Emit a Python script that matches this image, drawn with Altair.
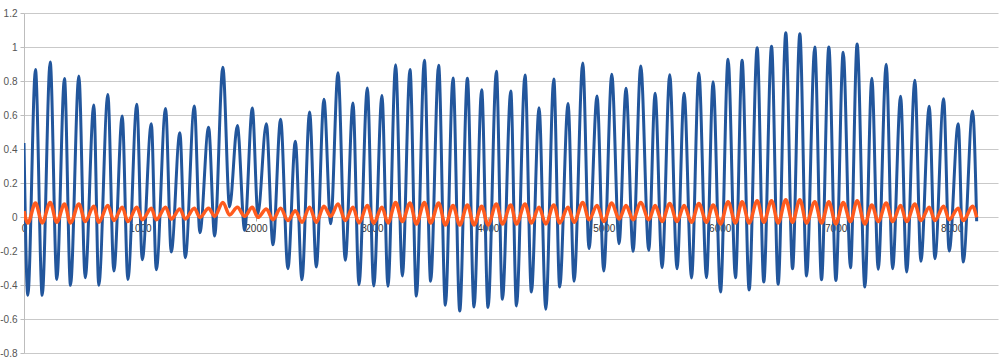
import altair as alt
import pandas as pd

# x positions of each turning point (peaks / troughs) of the signals
x_pos = [0, 33, 99, 157, 226, 283, 349, 401, 473, 528, 602, 645, 723, 775, 847, 896,
         973, 1020, 1098, 1141, 1221, 1270, 1344, 1391, 1469, 1517, 1592, 1644, 1715, 1773,
         1840, 1903, 1969, 2017, 2090, 2147, 2213, 2276, 2340, 2397, 2463, 2521, 2587, 2645,
         2708, 2771, 2837, 2889, 2961, 3016, 3087, 3139, 3205, 3263, 3329, 3384, 3453, 3507,
         3576, 3634, 3700, 3758, 3824, 3881, 3947, 4002, 4074, 4126, 4198, 4247, 4321, 4376,
         4442, 4500, 4569, 4620, 4692, 4744, 4819, 4873, 4942, 5000, 5069, 5132, 5192, 5253,
         5319, 5388, 5443, 5503, 5569, 5632, 5693, 5757, 5820, 5886, 5943, 6007, 6072, 6136,
         6193, 6254, 6323, 6380, 6447, 6504, 6570, 6628, 6691, 6749, 6820, 6878, 6941, 7002,
         7065, 7128, 7185, 7252, 7312, 7367, 7436, 7491, 7560, 7612, 7683, 7735, 7807, 7856,
         7931, 7979, 8057, 8100, 8181, 8216]

blue = [0.435, -0.461, 0.867, -0.461, 0.912, -0.367, 0.814, -0.402, 0.830, -0.357, 0.659, -0.402,
        0.720, -0.318, 0.594, -0.367, 0.663, -0.251, 0.549, -0.310, 0.638, -0.206, 0.496, -0.239,
        0.653, -0.092, 0.528, -0.112, 0.881, 0.059, 0.538, -0.078, 0.641, 0.020, 0.549, -0.163,
        0.575, -0.304, 0.445, -0.369, 0.618, -0.294, 0.692, -0.039, 0.849, -0.255, 0.671, -0.398,
        0.759, -0.406, 0.714, -0.408, 0.896, -0.347, 0.867, -0.465, 0.922, -0.378, 0.892, -0.519,
        0.818, -0.553, 0.816, -0.529, 0.749, -0.533, 0.857, -0.484, 0.741, -0.523, 0.835, -0.441,
        0.643, -0.543, 0.812, -0.412, 0.667, -0.378, 0.906, -0.186, 0.712, -0.318, 0.839, -0.157,
        0.757, -0.202, 0.888, -0.196, 0.728, -0.298, 0.837, -0.304, 0.728, -0.359, 0.847, -0.357,
        0.796, -0.441, 0.928, -0.357, 0.922, -0.429, 0.996, -0.382, 1.004, -0.396, 1.084, -0.304,
        1.078, -0.347, 1.000, -0.369, 1.000, -0.373, 0.969, -0.298, 1.018, -0.412, 0.816, -0.308,
        0.898, -0.304, 0.710, -0.324, 0.804, -0.261, 0.651, -0.245, 0.696, -0.200, 0.549, -0.265,
        0.624, -0.025]

orange = [0.035, -0.035, 0.082, -0.035, 0.086, -0.031, 0.077, -0.035, 0.077, -0.027, 0.063, -0.031,
          0.067, -0.021, 0.057, -0.027, 0.057, -0.016, 0.051, -0.016, 0.057, -0.012, 0.047, -0.012,
          0.051, -0.002, 0.051, 0.004, 0.086, 0.012, 0.057, 0.004, 0.057, -0.002, 0.047, -0.016,
          0.051, -0.021, 0.037, -0.031, 0.057, -0.031, 0.063, 0.004, 0.077, -0.021, 0.057, -0.035,
          0.067, -0.035, 0.057, -0.035, 0.086, -0.027, 0.082, -0.041, 0.086, -0.035, 0.082, -0.047,
          0.067, -0.047, 0.071, -0.047, 0.063, -0.047, 0.077, -0.041, 0.071, -0.041, 0.077, -0.035,
          0.057, -0.041, 0.071, -0.035, 0.057, -0.031, 0.086, -0.016, 0.067, -0.027, 0.082, -0.012,
          0.067, -0.016, 0.086, -0.016, 0.067, -0.027, 0.080, -0.027, 0.067, -0.031, 0.080, -0.031,
          0.071, -0.041, 0.090, -0.035, 0.090, -0.035, 0.096, -0.031, 0.096, -0.035, 0.102, -0.031,
          0.102, -0.035, 0.090, -0.035, 0.090, -0.041, 0.086, -0.027, 0.096, -0.041, 0.071, -0.027,
          0.082, -0.027, 0.067, -0.027, 0.077, -0.021, 0.057, -0.021, 0.063, -0.016, 0.051, -0.021,
          0.063, -0.002]

x_ticks = [0, 1000, 2000, 3000, 4000, 5000, 6000, 7000, 8000]
y_ticks = [-0.8, -0.6, -0.4, -0.2, 0, 0.2, 0.4, 0.6, 0.8, 1, 1.2]

df = pd.DataFrame({"x": x_pos, "blue": blue, "orange": orange})

FONT = "Liberation Sans"
GRID = "#c9c9c9"

x_scale = alt.Scale(domain=[0, 8400], nice=False, zero=False)
x_axis = alt.Axis(values=x_ticks, offset=-136, grid=False, domain=False,
                  format="d", labelOverlap=False,
                  ticks=True, tickSize=4, tickColor="#aaaaaa",
                  labelFont=FONT, labelFontSize=10, labelColor="#333333",
                  labelPadding=2, labelFlush=False, title=None)

y_scale = alt.Scale(domain=[-0.8, 1.2], nice=False, zero=False)
y_axis = alt.Axis(values=y_ticks, tickCount=11, grid=True, gridColor=GRID, gridWidth=1,
                  domain=True, domainColor="#bdbdbd", ticks=True, tickSize=4,
                  tickColor="#bdbdbd", labelOverlap=False,
                  labelExpr="toString(round(datum.value*10)/10)",
                  labelFont=FONT, labelFontSize=10, labelColor="#555555",
                  labelPadding=3, title=None)

blue_line = alt.Chart(df).mark_line(
    color="#22569c", strokeWidth=3, interpolate="monotone", clip=True
).encode(
    x=alt.X("x:Q", scale=x_scale, axis=x_axis),
    y=alt.Y("blue:Q", scale=y_scale, axis=y_axis)
)

orange_line = alt.Chart(df).mark_line(
    color="#ff5b1e", strokeWidth=3.5, interpolate="monotone", clip=True
).encode(
    x=alt.X("x:Q", scale=x_scale, axis=x_axis),
    y=alt.Y("orange:Q", scale=y_scale, axis=y_axis)
)

chart = alt.layer(blue_line, orange_line).properties(
    width=974, height=340,
    autosize=alt.AutoSizeParams(type="none"),
    padding={"left": 24, "top": 13, "right": 2, "bottom": 7},
    background="white"
).configure_view(stroke=None)

chart.save("out.html", embed_options={"renderer": "svg", "actions": False})
